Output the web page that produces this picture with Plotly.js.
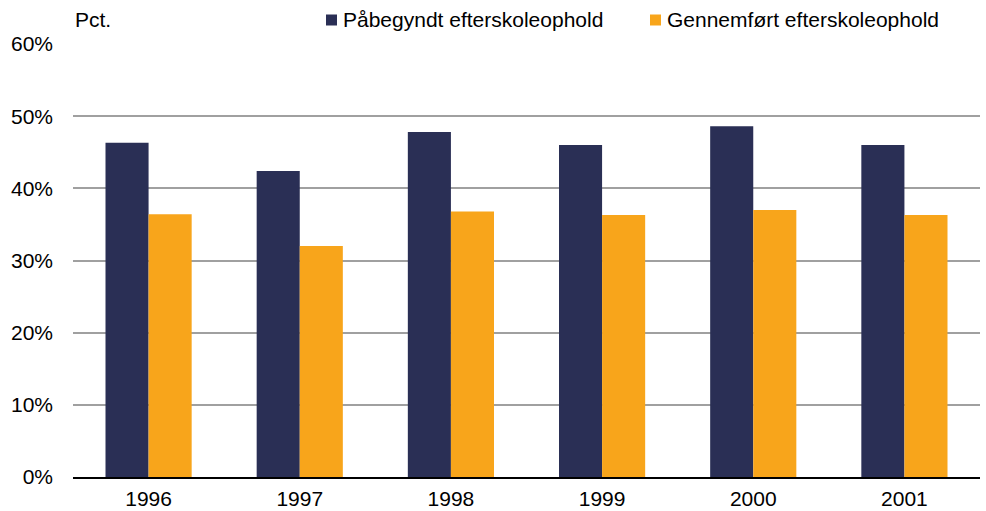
<!DOCTYPE html>
<html><head><meta charset="utf-8">
<script src="https://cdn.plot.ly/plotly-3.0.1.min.js"></script>
<style>html,body{margin:0;padding:0;background:#fff}</style>
</head><body>
<div id="chart" style="width:986px;height:511px"></div>
<script>
const years = ['1996','1997','1998','1999','2000','2001'];
const startedName = 'Påbegyndt efterskoleophold';
const started = [46.3, 42.4, 47.8, 46.0, 48.6, 46.0];
const completedName = 'Gennemført efterskoleophold';
const completed = [36.4, 32.0, 36.8, 36.3, 37.0, 36.3];
const yTicks = [0,10,20,30,40,50,60];
const yTickText = yTicks.map(v => v + '%');
const colors = ['#2a2f55', '#f8a51b'];

const font = {family: 'Liberation Sans, Arial, sans-serif', size: 21, color: '#000'};
const data = [
  {type:'bar', x: years, y: started, name: startedName, marker:{color:colors[0]}},
  {type:'bar', x: years, y: completed, name: completedName, marker:{color:colors[1]}}
];
// custom legend (pixel -> paper helpers)
const L = 73, W = 907, B = 477, H = 433;
const px = v => (v - L) / W;
const py = v => (B - v) / H;
const legendItems = [
  {name: startedName, color: colors[0], sq: 326, tx: 341},
  {name: completedName, color: colors[1], sq: 650, tx: 665}
];
const shapes = legendItems.map(it => ({
  type:'rect', xref:'paper', yref:'paper',
  x0: px(it.sq), x1: px(it.sq + 11), y0: py(25.5), y1: py(14.5),
  fillcolor: it.color, line:{width:0}
}));
const annotations = legendItems.map(it => ({
  text: it.name, xref:'paper', yref:'paper', x: px(it.tx), y: py(20),
  xanchor:'left', yanchor:'middle', showarrow:false, font: font
}));
annotations.push({text:'Pct.', xref:'paper', yref:'paper', x:0, y:py(20), xanchor:'left', yanchor:'middle', showarrow:false, font: font});

const layout = {
  width: 986, height: 511,
  margin: {l:73, r:6, t:44, b:34},
  paper_bgcolor:'#fff', plot_bgcolor:'#fff',
  font: font,
  barmode: 'group', bargap: 0.43, bargroupgap: 0,
  showlegend: false,
  xaxis: {type:'category', showgrid:false, showline:true, linecolor:'#000', linewidth:2, ticks:'', tickfont: font, zeroline:false, ticklabelstandoff: 2},
  yaxis: {range:[0,60], tickvals: yTicks, ticktext: yTickText, showgrid:true, gridcolor:'#a0a0a0', gridwidth:2, zeroline:false, showline:false, ticks:'', tickfont: font, ticklabelstandoff: 19},
  shapes: shapes,
  annotations: annotations
};
Plotly.newPlot('chart', data, layout, {displayModeBar:false, staticPlot:true});
</script>
</body></html>
